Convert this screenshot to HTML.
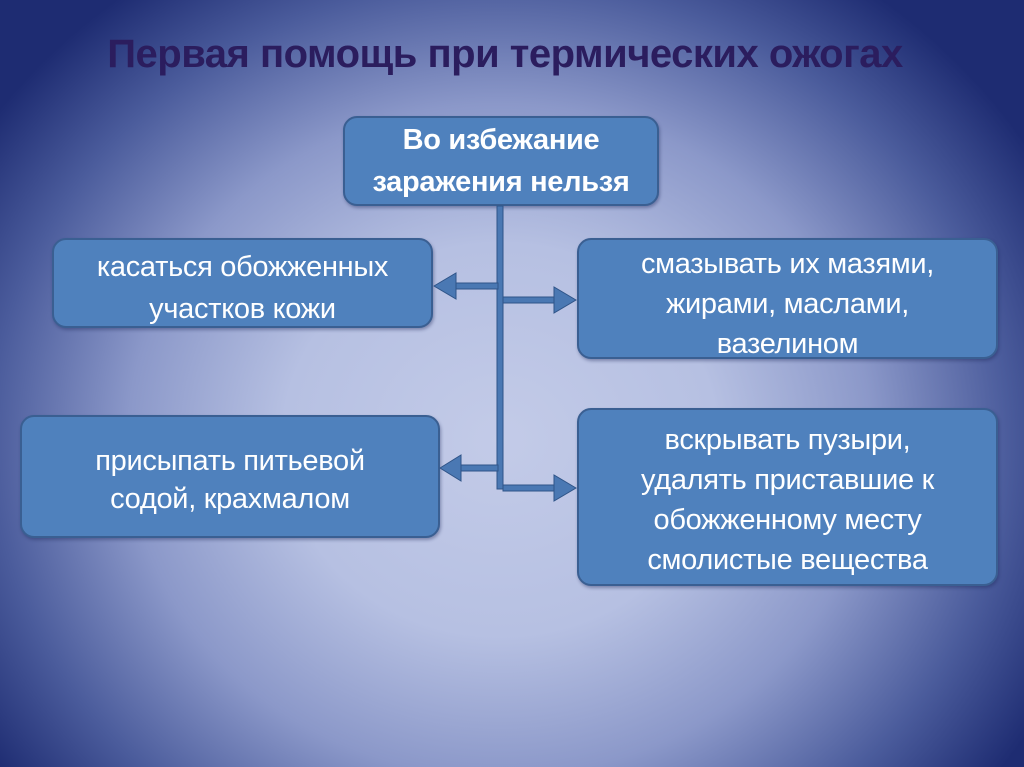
<!DOCTYPE html>
<html><head><meta charset="utf-8"><style>
html,body{margin:0;padding:0}
body{width:1024px;height:767px;overflow:hidden;position:relative;font-family:"Liberation Sans","DejaVu Sans",sans-serif;
background:radial-gradient(ellipse 620px 560px at 500px 440px,#c3cbe8 0%,#b6c0e2 35%,#8b98c9 60%,#4b5c9c 82%,#1e2c72 100%);}
.t{position:absolute;left:0;width:1010px;top:31px;text-align:center;font-weight:bold;font-size:40px;line-height:46px;color:#2b1d5e;letter-spacing:-0.5px}
.b{position:absolute;box-sizing:border-box;background:#4f81bd;border:2px solid #3a5f92;border-radius:14px;color:#fff;font-size:29px;text-align:center;display:flex;align-items:center;justify-content:center;line-height:40px;box-shadow:1px 2px 3px rgba(30,40,90,.4);white-space:nowrap;letter-spacing:-0.3px}
</style></head><body>
<div class="t">Первая помощь при термических ожогах</div>
<div class="b" style="left:343px;top:116px;width:316px;height:90px;font-weight:bold;font-size:29px;line-height:42px">Во избежание<br>заражения нельзя</div>
<div class="b" style="left:52px;top:238px;width:381px;height:90px;align-items:flex-start;padding-top:6px;line-height:42px">касаться обожженных<br>участков кожи</div>
<div class="b" style="left:577px;top:238px;width:421px;height:121px;align-items:flex-start;padding-top:4px">смазывать их мазями,<br>жирами, маслами,<br>вазелином</div>
<div class="b" style="left:20px;top:415px;width:420px;height:123px;align-items:flex-start;padding-top:25px;line-height:38px">присыпать питьевой<br>содой, крахмалом</div>
<div class="b" style="left:577px;top:408px;width:421px;height:178px;align-items:flex-start;padding-top:10px">вскрывать пузыри,<br>удалять приставшие к<br>обожженному месту<br>смолистые вещества</div>
<svg width="1024" height="767" style="position:absolute;left:0;top:0">
<g fill="#4a78b3" stroke="#2f5488" stroke-width="1">
<rect x="497" y="206" width="6" height="283"/>
<rect x="455" y="283" width="43" height="6"/>
<polygon points="434,286 456,273 456,299"/>
<rect x="503" y="297" width="52" height="6"/>
<polygon points="576,300 554,287 554,313"/>
<rect x="460" y="465" width="38" height="6"/>
<polygon points="440,468 461,455 461,481"/>
<rect x="503" y="485" width="52" height="6"/>
<polygon points="576,488 554,475 554,501"/>
</g>
</svg>
</body></html>
